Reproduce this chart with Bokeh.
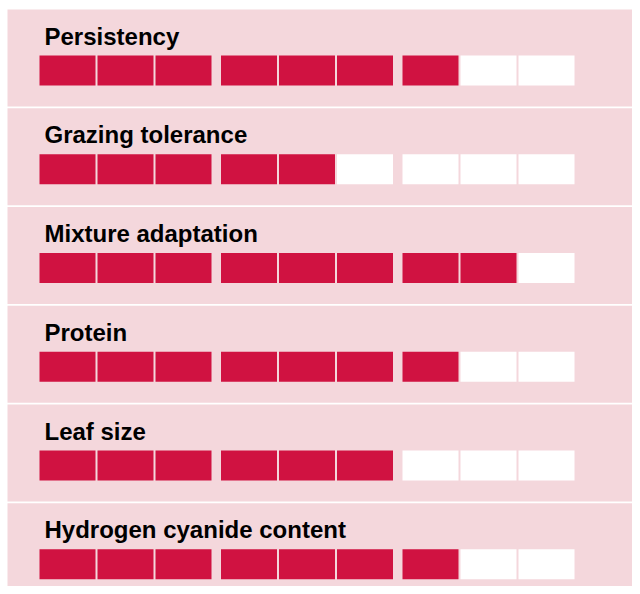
from bokeh.plotting import figure
from bokeh.models import Range1d, ColumnDataSource
from bokeh.core.properties import value
from bokeh.embed import file_html
from bokeh.resources import INLINE

# ---- data ----
categories = ["Persistency", "Grazing tolerance", "Mixture adaptation",
              "Protein", "Leaf size", "Hydrogen cyanide content"]
scores = [7, 5, 8, 7, 6, 7]
max_score = 9

# ---- layout constants (pixels in data space) ----
W, H = 632, 586
ROW0 = 9.0
ROW_H = 98.75
PANEL_H = 97.0
CELL_X0 = 39.0
CELL_STEP = 58.0
GROUP_STEP = 181.5
CELL_W = 56.0
CELL_TOP = 46.0
CELL_H = 30.0
LABEL_X = 44.0
LABEL_BASE = 26.5

PINK = "#F4D7DC"
RED = "#D01241"

p = figure(width=W, height=H, x_range=Range1d(0, W), y_range=Range1d(H, 0),
           output_backend="svg", toolbar_location=None,
           x_axis_type=None, y_axis_type=None, min_border=0)
p.background_fill_color = "white"
p.border_fill_color = "white"
p.outline_line_color = None
p.xgrid.visible = False
p.ygrid.visible = False

# panels
tops = [ROW0 + i * ROW_H for i in range(len(categories))]
panels = ColumnDataSource(dict(
    left=[7] * len(categories), right=[W + 1] * len(categories),
    top=tops, bottom=[t + PANEL_H for t in tops]))
p.quad(left="left", right="right", top="top", bottom="bottom", source=panels,
       fill_color=PINK, line_color=None)

# cells
lefts, ctops, colors = [], [], []
for i, s in enumerate(scores):
    for j in range(max_score):
        g, k = divmod(j, 3)
        lefts.append(CELL_X0 + g * GROUP_STEP + k * CELL_STEP)
        ctops.append(tops[i] + CELL_TOP)
        colors.append(RED if j < s else "white")
cells = ColumnDataSource(dict(
    left=lefts, right=[l + CELL_W for l in lefts],
    top=ctops, bottom=[t + CELL_H for t in ctops], color=colors))
p.quad(left="left", right="right", top="top", bottom="bottom", source=cells,
       fill_color="color", line_color=None)

# labels
labels = ColumnDataSource(dict(
    x=[LABEL_X] * len(categories),
    y=[t + LABEL_BASE for t in tops],
    text=categories))
p.text(x="x", y="y", text="text", source=labels,
       text_font=value("Liberation Sans"), text_font_style="bold",
       text_font_size="24px", text_baseline="alphabetic", text_align="left",
       text_color="#000000")

open("out.html", "w").write(file_html(p, INLINE))
